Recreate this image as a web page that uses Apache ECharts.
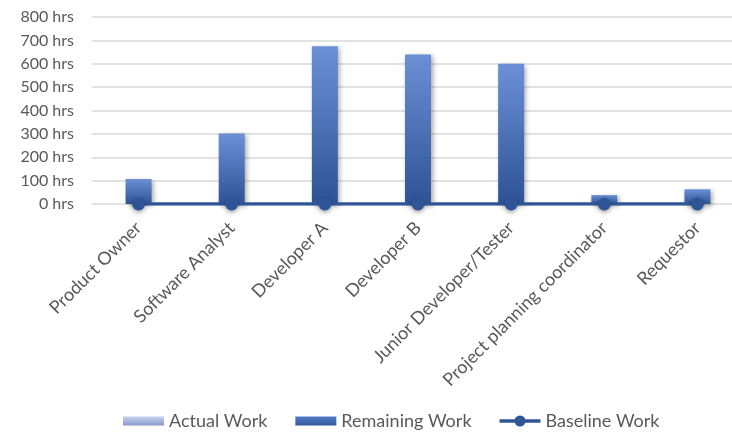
<!DOCTYPE html>
<html>
<head>
<meta charset="utf-8">
<script src="https://cdn.jsdelivr.net/npm/echarts@6/dist/echarts.min.js"></script>
<style>
html,body{margin:0;padding:0;background:#fff;}
#main{width:732px;height:432px;}
</style>
</head>
<body>
<div id="main"></div>
<script>
var categories = ['Product Owner','Software Analyst','Developer A','Developer B','Junior Developer/Tester','Project planning coordinator','Requestor'];
var actualWork = [0,0,0,0,0,0,0];
var remainingWork = [107,302,675,640,600,38,63];
var baselineWork = [0,0,0,0,0,0,0];
var yTicks = {min:0,max:800,interval:100};

var chart = echarts.init(document.getElementById('main'));
var font = 'Lato, "Open Sans", sans-serif';
var barGrad = new echarts.graphic.LinearGradient(0,0,0,1,[{offset:0,color:'#6b90d6'},{offset:1,color:'#2d5396'}]);
var legBarGrad = new echarts.graphic.LinearGradient(0,0,0,1,[{offset:0,color:'#5a80cc'},{offset:1,color:'#2d5396'}]);
var actGrad = new echarts.graphic.LinearGradient(0,0,0,1,[{offset:0,color:'#d3dbf1'},{offset:1,color:'#7b90cc'}]);
var rectIcon = 'path://M0,0 M41,12 M0,1.5 H41 V10.5 H0 Z';
var lineIcon = 'path://M0,4.3 H41 V7.7 H0 Z M15,6 A5.5,5.5 0 1 1 26,6 A5.5,5.5 0 1 1 15,6 Z M0,0 M41,12';
chart.setOption({
  animation:false,
  textStyle:{fontFamily:font},
  grid:{left:92,right:-12,top:17,bottom:228,containLabel:false,outerBoundsMode:'none'},
  legend:{
    top:412,left:123,padding:0,itemWidth:41,itemHeight:12,itemGap:28,
    textStyle:{fontFamily:font,fontSize:18,color:'#595959'},
    data:[
      {name:'Actual Work',icon:rectIcon,itemStyle:{color:actGrad}},
      {name:'Remaining Work',icon:rectIcon,itemStyle:{color:legBarGrad}},
      {name:'Baseline Work',icon:lineIcon,itemStyle:{color:'#2f5597'}}
    ]
  },
  xAxis:{
    type:'category',data:categories,
    axisLine:{show:false},axisTick:{show:false},
    axisLabel:{rotate:45,interval:0,margin:21,fontFamily:font,fontSize:18,color:'#595959'}
  },
  yAxis:{
    type:'value',min:yTicks.min,max:yTicks.max,interval:yTicks.interval,
    axisLine:{show:false},axisTick:{show:false},
    splitLine:{lineStyle:{color:'#d9d9d9',width:1.5}},
    axisLabel:{margin:18,fontFamily:font,fontSize:16,color:'#595959',formatter:function(v){return v+' hrs';}}
  },
  series:[
    {name:'Actual Work',type:'bar',stack:'w',barWidth:26,data:actualWork,
     itemStyle:{color:actGrad}},
    {name:'Remaining Work',type:'bar',stack:'w',barWidth:26,data:remainingWork,
     itemStyle:{color:barGrad,shadowBlur:5,shadowOffsetX:2,shadowOffsetY:2,shadowColor:'rgba(0,0,0,0.35)'}},
    {name:'Baseline Work',type:'line',data:baselineWork,symbol:'circle',symbolSize:13,
     lineStyle:{color:'#2f5597',width:3.5},
     itemStyle:{color:'#2f5597',shadowBlur:4,shadowOffsetY:2,shadowColor:'rgba(0,0,0,0.35)'}}
  ]
});
</script>
</body>
</html>
